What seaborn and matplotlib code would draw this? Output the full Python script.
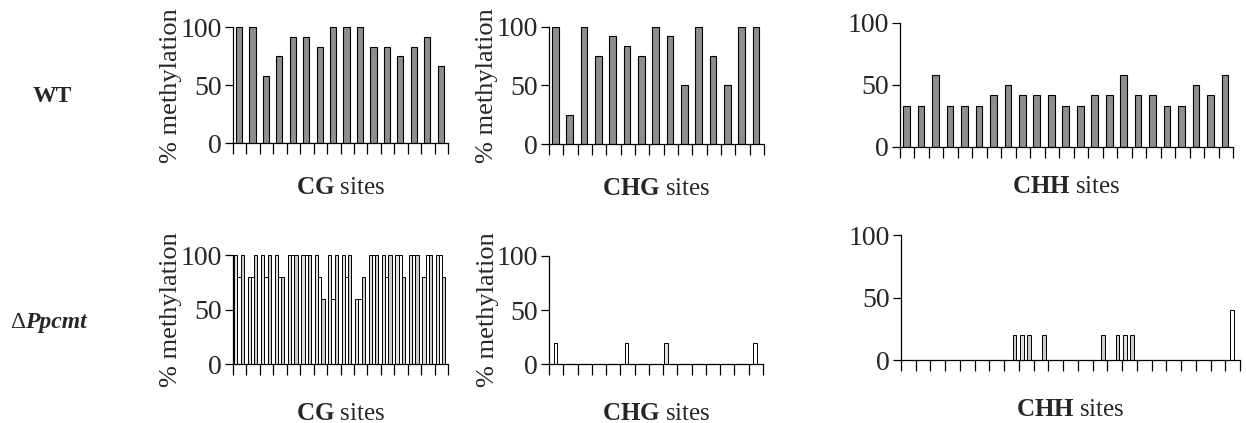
import numpy as np
import pandas as pd
import matplotlib
matplotlib.use("Agg")
import matplotlib.pyplot as plt
import seaborn as sns

# ---------------- data ----------------
row_labels = ["WT", "Ppcmt"]
context_labels = ["CG", "CHG", "CHH"]

wt_cg = [100, 100, 58.3, 75, 91.7, 91.7, 83.3, 100, 100, 100, 83.3, 83.3, 75, 83.3, 91.7, 66.7]
wt_chg = [100, 25, 100, 75, 91.7, 83.3, 75, 100, 91.7, 50, 100, 75, 50, 100, 100]
wt_chh = [33.3, 33.3, 58.3, 33.3, 33.3, 33.3, 41.7, 50, 41.7, 41.7, 41.7, 33.3, 33.3,
          41.7, 41.7, 58.3, 41.7, 41.7, 33.3, 33.3, 50, 41.7, 58.3]

clones = ["c1", "c2", "c3"]
mut_cg_c1 = [100, 80, 100, 100, 100, 100, 100, 100, 100, 60, 100, 100, 100, 100, 80, 100]
mut_cg_c2 = [80, 80, 80, 80, 100, 100, 80, 60, 80, 60, 100, 80, 100, 100, 100, 100]
mut_cg_c3 = [100, 100, 100, 80, 100, 100, 60, 100, 100, 80, 100, 100, 80, 100, 100, 80]

mut_chg_c1 = [0, 0, 0, 0, 0, 0, 0, 0, 20, 0, 0, 0, 0, 0, 0]
mut_chg_c2 = [20, 0, 0, 0, 0, 20, 0, 0, 0, 0, 0, 0, 0, 0, 20]
mut_chg_c3 = [0, 0, 0, 0, 0, 0, 0, 0, 0, 0, 0, 0, 0, 0, 0]

mut_chh_c1 = [0, 0, 0, 0, 0, 0, 0, 0, 20, 0, 0, 0, 0, 0, 0, 20, 0, 0, 0, 0, 0, 0, 0]
mut_chh_c2 = [0, 0, 0, 0, 0, 0, 0, 0, 0, 0, 0, 0, 0, 0, 0, 0, 0, 0, 0, 0, 0, 0, 40]
mut_chh_c3 = [0, 0, 0, 0, 0, 0, 0, 20, 20, 20, 0, 0, 0, 20, 20, 20, 0, 0, 0, 0, 0, 0, 0]

yticks = [0, 50, 100]

# ---------------- style ----------------
sns.set_style("ticks")
plt.rcParams["font.family"] = ["Liberation Serif", "DejaVu Serif"]
plt.rcParams["axes.linewidth"] = 0.9
plt.rcParams["mathtext.fontset"] = "custom"
plt.rcParams["mathtext.rm"] = "Liberation Serif"
plt.rcParams["mathtext.bf"] = "Liberation Serif:bold"
plt.rcParams["mathtext.it"] = "Liberation Serif:italic"

W, H = 1246, 423
fig = plt.figure(figsize=(W / 100, H / 100), dpi=100)


def rect(left, right, top, bottom):
    return [left / W, 1 - bottom / H, (right - left) / W, (bottom - top) / H]


rects = {
    (0, 0): rect(233, 448, 27.3, 143.3),
    (0, 1): rect(549, 764, 26.7, 144.3),
    (0, 2): rect(900, 1233, 22.7, 147),
    (1, 0): rect(233, 448, 255, 364),
    (1, 1): rect(549, 763, 255.7, 364.3),
    (1, 2): rect(901, 1240, 235, 360.3),
}
xlabel_y = {
    (0, 0): -0.29, (0, 1): -0.29, (0, 2): -0.23,
    (1, 0): -0.355, (1, 1): -0.355, (1, 2): -0.31,
}

wt_data = [wt_cg, wt_chg, wt_chh]
mut_data = [
    [mut_cg_c1, mut_cg_c2, mut_cg_c3],
    [mut_chg_c1, mut_chg_c2, mut_chg_c3],
    [mut_chh_c1, mut_chh_c2, mut_chh_c3],
]
clone_colors = ["#e0e0e0", "#ffffff", "#cccccc"]
tick_fs = 20
ylab_fs = 19
xlab_fs = 18


def style_axis(ax, n, col, row):
    ax.set_ylim(0, 100)
    ax.set_yticks(yticks)
    ax.set_yticklabels([str(v) for v in yticks], fontsize=tick_fs)
    ticks = np.arange(n + 1) - 0.45
    ax.set_xticks(ticks)
    ax.set_xticklabels([])
    ax.set_xlim(ticks[0], ticks[-1])
    ax.tick_params(axis="x", direction="out", length=8, width=0.9, color="black")
    ax.tick_params(axis="y", direction="out", length=6, width=0.9, color="black", pad=2)
    sns.despine(ax=ax)
    for s in ("left", "bottom"):
        ax.spines[s].set_color("black")
    ax.set_ylabel("")
    if col < 2:
        ax.set_ylabel("% methylation", fontsize=ylab_fs)
        ax.yaxis.set_label_coords(-0.235, 0.5)
    ctx = context_labels[col]
    ax.set_xlabel(r"$\mathbf{" + ctx + r"}$ sites", fontsize=xlab_fs)
    ax.xaxis.set_label_coords(0.5, xlabel_y[(row, col)])


for col in range(3):
    # WT row
    ax = fig.add_axes(rects[(0, col)])
    vals = wt_data[col]
    df = pd.DataFrame({"site": np.arange(len(vals)), "value": vals})
    sns.barplot(data=df, x="site", y="value", color="#8e8e8e", saturation=1,
                edgecolor="black", linewidth=0.8, width=0.46, errorbar=None, ax=ax)
    style_axis(ax, len(vals), col, 0)

    # mutant row
    ax = fig.add_axes(rects[(1, col)])
    series = mut_data[col]
    n = len(series[0])
    df = pd.DataFrame({
        "site": np.tile(np.arange(n), 3),
        "clone": np.repeat(clones, n),
        "value": np.concatenate(series),
    })
    sns.barplot(data=df, x="site", y="value", hue="clone", hue_order=clones,
                palette=clone_colors, saturation=1, edgecolor="black", linewidth=0.7,
                width=0.72, gap=0, errorbar=None, legend=False, ax=ax)
    style_axis(ax, n, col, 1)

# row labels
fig.text(52 / W, 1 - 96 / H, "WT", fontsize=17, fontweight="bold", ha="center", va="center")
renderer = fig.canvas.get_renderer()
t1 = fig.text(10 / W, 1 - 322 / H, "Δ", fontsize=17, ha="left", va="center")
bb = t1.get_window_extent(renderer)
fig.text(bb.x1 / W, 1 - 322 / H, "Ppcmt", fontsize=17, fontweight="bold", fontstyle="italic",
         ha="left", va="center")

fig.savefig("out.png", dpi=100)
